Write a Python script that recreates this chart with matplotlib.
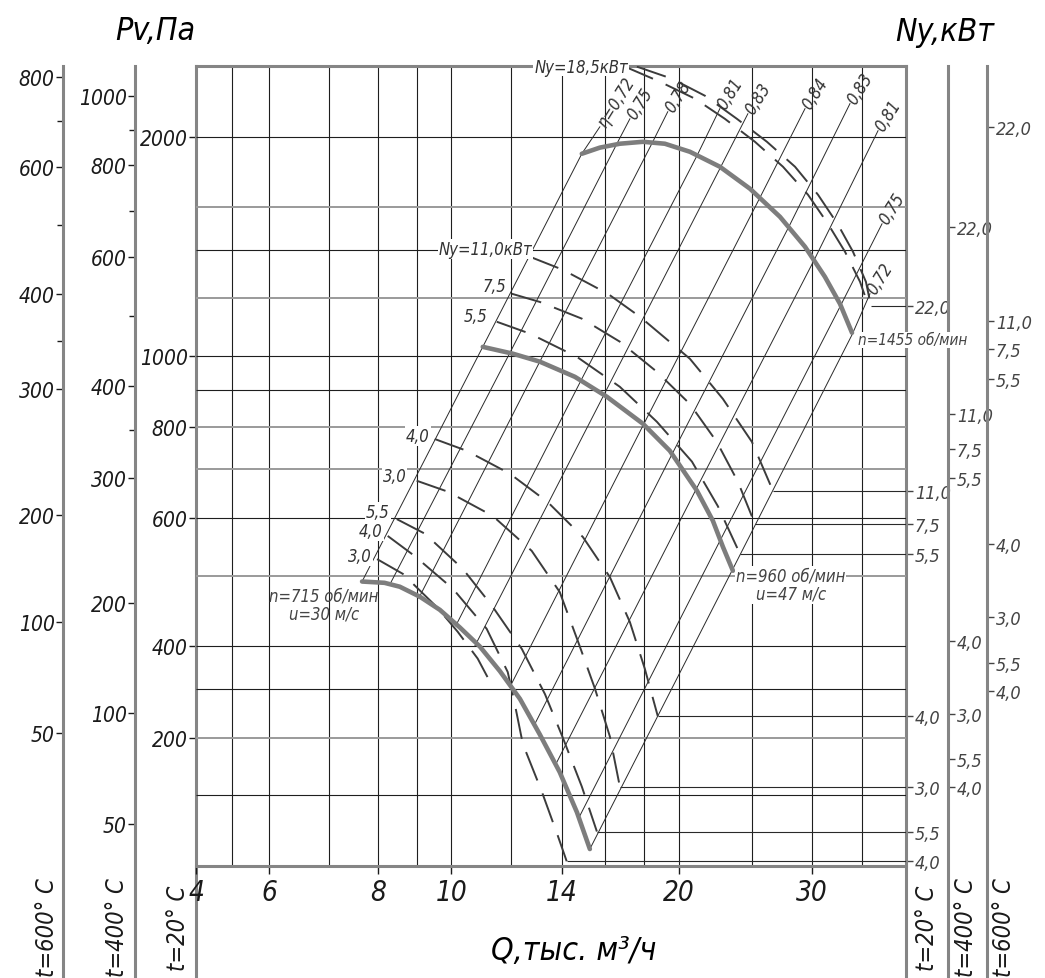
import numpy as np
import matplotlib
matplotlib.use("Agg")
import matplotlib.pyplot as plt
from matplotlib.ticker import FixedLocator, NullFormatter, NullLocator

# ---- values (Q in thousand m3/h, Pv in Pa at t=20 C) ----
q_ticks = [4, 6, 8, 10, 14, 20, 30]
q_grid = [5, 6, 7, 8, 9, 10, 12, 14, 16, 18, 20, 25, 30, 35]
p_grid_dark = [250, 350, 400, 600, 900, 1000, 1400, 2000]
p_grid_grey = [300, 500, 700, 800, 1200, 1600]

# fan curves
n1455_q = [14.89, 15.73, 16.72, 17.94, 19.18, 20.70, 22.68, 24.86, 27.24, 29.40, 31.24, 32.71, 33.93]
n1455_p = [1895, 1932, 1956, 1968, 1956, 1907, 1819, 1697, 1553, 1413, 1285, 1180, 1077]
n960_q = [11.01, 12.07, 13.10, 14.58, 16.07, 17.94, 19.47, 21.15, 22.20, 22.89, 23.60]
n960_p = [1030, 1008, 983, 937, 880, 808, 742, 654, 595, 548, 508]
n715_q = [7.66, 8.16, 8.55, 9.09, 9.66, 10.26, 10.91, 11.60, 12.33, 13.10, 13.92, 14.67, 15.26]
n715_p = [491, 489, 483, 468, 449, 425, 400, 370, 339, 303, 269, 237, 211]

# efficiency lines (top label point, then crossings with n=1455, 960, 715)
eta_lbl = ["η=0,72", "0,75", "0,78", "0,81", "0,83", "0,84", "0,83", "0,81", "0,75", "0,72"]
eta_q = [[15.73, 14.89, 11.01, 7.66], [17.24, 16.57, 11.96, 8.29],
         [19.35, 18.43, 13.10, 9.06], [22.68, 21.15, 14.89, 10.14],
         [24.70, 22.68, 15.98, 10.74], [29.40, 25.62, 17.94, 11.96],
         [33.72, 28.08, 19.59, 12.90], [36.73, 30.20, 21.08, 13.76],
         [37.18, 32.71, 22.68, 14.76], [35.84, 33.93, 23.60, 15.26]]
eta_p = [[2063, 1895, 1030, 491], [2116, 1956, 1011, 486],
         [2164, 1956, 983, 466], [2185, 1883, 931, 427],
         [2150, 1808, 891, 400], [2185, 1649, 803, 352],
         [2220, 1515, 733, 313], [2038, 1352, 656, 276],
         [1519, 1169, 558, 233], [1218, 1070, 511, 211]]

# shaft power curves (dashed)
pw185_q = [16.98, 18.89, 21.02, 23.03, 25.24, 27.49, 29.67, 31.53, 33.21, 34.77, 35.40]
pw185_p = [2495, 2379, 2255, 2116, 1968, 1819, 1665, 1519, 1391, 1265, 1199]
pw220_q = [17.61, 19.59, 21.67, 23.89, 26.18, 28.52, 30.59, 32.51, 34.03, 35.40, 35.95]
pw220_p = [2495, 2402, 2276, 2116, 1968, 1819, 1665, 1515, 1391, 1265, 1172]
pw110_q = [12.71, 14.05, 16.12, 17.77, 20.70, 22.89, 25.01, 26.66]
pw110_p = [1369, 1314, 1218, 1133, 992, 874, 763, 654]
pw75_q = [12.03, 13.10, 14.89, 16.72, 18.72, 20.70, 22.47, 23.96, 25.24]
pw75_p = [1218, 1187, 1126, 1047, 952, 860, 763, 673, 589]
pw55_q = [11.49, 12.71, 14.67, 16.72, 18.72, 20.83, 22.54, 24.11]
pw55_p = [1115, 1074, 998, 908, 813, 717, 623, 536]
pw40a_q = [9.51, 10.48, 11.96, 13.42, 14.94, 16.22, 17.24, 18.04, 18.77]
pw40a_p = [770, 742, 690, 631, 565, 498, 432, 373, 321]
pw30a_q = [9.00, 9.90, 11.35, 12.78, 13.92, 14.71, 15.50, 16.22, 16.72]
pw30a_p = [675, 652, 604, 541, 475, 407, 350, 301, 257]
pw55b_q = [8.47, 9.23, 10.36, 11.32, 12.40, 13.31, 14.05, 14.89, 15.59]
pw55b_p = [598, 571, 511, 455, 397, 344, 300, 257, 223]
pw40b_q = [8.24, 8.95, 10.05, 11.14, 11.88, 12.10, 12.44, 13.18, 13.84, 14.22]
pw40b_p = [567, 532, 480, 423, 369, 339, 294, 253, 220, 203]
pw30b_q = [7.98, 8.63, 9.57, 10.20, 10.84, 11.35]
pw30b_p = [527, 503, 453, 419, 385, 352]

# pressure scales for the three temperatures (positions in Pa at 20 C)
p20_pos = [2000, 1000, 800, 600, 400, 300]
p20_lbl = ["2000", "1000", "800", "600", "400", "200"]
p400_pos = [2276, 1831, 1369, 911, 681, 459, 324, 228]
p400_lbl = ["1000", "800", "600", "400", "300", "200", "100", "50"]
p400_minor = [2044, 1583, 1136, 793]
p600_pos = [2418, 1819, 1218, 902, 606, 432, 304]
p600_lbl = ["800", "600", "400", "300", "200", "100", "50"]
p600_minor = [2104, 1515, 1050]

# power scales
ny_lbl = ["22,0", "11,0", "7,5", "5,5", "4,0", "3,0", "5,5", "4,0"]
ny20_pos = [1172, 654, 589, 536, 321, 257, 223, 203]
ny400_pos = [1505, 832, 747, 680, 407, 323, 280, 257]
ny600_pos = [2063, 1118, 1024, 931, 552, 439, 380, 348]

# ---------------------------------------------------------------------------
W, H = 1045, 979
plt.rcParams["font.family"] = ["DejaVu Sans"]
plt.rcParams["font.style"] = "italic"
plt.rcParams["font.stretch"] = "condensed"
plt.rcParams["lines.scale_dashes"] = False

fig = plt.figure(figsize=(W / 100, H / 100), dpi=100)
fig.patch.set_facecolor("white")

# Q scale of the drawing: log above 8, squeezed below 8
q_knots = np.log10([4, 5, 6, 7, 8, 40])
q_px = np.array([0, 36, 73, 133, 182, 710])


def q_fwd(q):
    return np.interp(np.log10(np.clip(q, 1e-6, None)), q_knots, q_px)


def q_inv(v):
    return 10 ** np.interp(v, q_px, q_knots)


P_BOT, P_TOP = 200, 2500
ax = fig.add_axes([196 / W, 1 - 867 / H, 710 / W, 800 / H])
ax.set_xscale("function", functions=(q_fwd, q_inv))
ax.set_yscale("log")
ax.set_xlim(4, 40)
ax.set_ylim(P_BOT, P_TOP)
ax.set_zorder(5)
ax.patch.set_visible(False)

ax.vlines(q_grid, P_BOT, P_TOP, colors="#1e1e1e", lw=0.8, zorder=1)
ax.hlines(p_grid_dark, 4, 40, colors="#1e1e1e", lw=0.8, zorder=1)
ax.hlines(p_grid_grey, 4, 40, colors="#9a9a9a", lw=1.4, zorder=1)

for qs, ps in zip(eta_q, eta_p):
    ax.plot(qs, ps, color="#2a2a2a", lw=0.7, zorder=2)
for lbl, qs, ps in zip(eta_lbl, eta_q, eta_p):
    ax.annotate(lbl, (qs[0], ps[0]), xytext=(1, 1), textcoords="offset points",
                rotation=58, rotation_mode="anchor", ha="left", va="center",
                fontsize=12, color="#333333", zorder=6)

power = [(pw185_q, pw185_p, False), (pw220_q, pw220_p, True),
         (pw110_q, pw110_p, True), (pw75_q, pw75_p, True), (pw55_q, pw55_p, True),
         (pw40a_q, pw40a_p, True), (pw30a_q, pw30a_p, True),
         (pw55b_q, pw55b_p, True), (pw40b_q, pw40b_p, True),
         (pw30b_q, pw30b_p, False)]
for qs, ps, lead in power:
    ax.plot(qs, ps, color="#3c3c3c", lw=1.4, dashes=(22, 10), zorder=3)
    if lead:
        ax.hlines(ps[-1], qs[-1], 40, colors="#2a2a2a", lw=0.8, zorder=2)

for qs, ps in [(n1455_q, n1455_p), (n960_q, n960_p), (n715_q, n715_p)]:
    ax.plot(qs, ps, color="#7d7d7d", lw=3.3, solid_capstyle="round",
            solid_joinstyle="round", zorder=4)

box = dict(facecolor="white", edgecolor="none", pad=0.6)
small = [("Ny=18,5кВт", 14.86, 2495, "center"), ("Ny=11,0кВт", 11.11, 1404, "center"),
         ("7,5", 11.84, 1249, "right"), ("5,5", 11.18, 1136, "right"),
         ("4,0", 9.37, 778, "right"), ("3,0", 8.73, 686, "right"),
         ("5,5", 8.29, 612, "right"), ("4,0", 8.12, 576, "right"),
         ("3,0", 7.87, 532, "right")]
for s, q, p, ha in small:
    ax.text(q, p, s, ha=ha, va="center", fontsize=12, color="#333333",
            bbox=box, zorder=6, clip_on=False)

ax.text(6.91, 456, "n=715 об/мин\nu=30 м/с", ha="center", va="center",
        fontsize=12, color="#444444", linespacing=1.0, zorder=6)
ax.text(28.17, 486, "n=960 об/мин\nu=47 м/с", ha="center", va="center",
        fontsize=12, color="#444444", linespacing=1.0, bbox=box, zorder=6)
ax.text(34.55, 1053, "n=1455 об/мин", ha="left", va="center", fontsize=11,
        color="#444444", bbox=box, zorder=6, clip_on=False)

for side in ["left", "right"]:
    ax.spines[side].set_visible(False)
for side in ["top", "bottom"]:
    ax.spines[side].set_color("#858585")
    ax.spines[side].set_linewidth(2.2)
ax.set_yticks([])
ax.yaxis.set_minor_locator(NullLocator())
ax.set_xticks(q_ticks, labels=[str(q) for q in q_ticks])
ax.xaxis.set_minor_locator(NullLocator())
ax.tick_params(axis="x", direction="out", length=6, width=1, pad=3,
               labelsize=20, colors="#1a1a1a")

# extra vertical scales, running down to the bottom of the sheet
p_low = P_BOT / 10 ** (112 / 800 * np.log10(P_TOP / P_BOT))


def side_axis(x_px, side, pos, labels, minor=(), size=15, color="#1a1a1a"):
    a = fig.add_axes([x_px / W, 0, 0.0004, 1 - 67 / H])
    a.set_yscale("log")
    a.set_ylim(p_low, P_TOP)
    a.patch.set_visible(False)
    a.set_xticks([])
    for s in a.spines.values():
        s.set_visible(False)
    a.spines[side].set_visible(True)
    a.spines[side].set_color("#858585")
    a.spines[side].set_linewidth(2.2)
    if side == "right":
        a.yaxis.tick_right()
    else:
        a.yaxis.tick_left()
    a.yaxis.set_major_locator(FixedLocator(pos))
    a.set_yticklabels(labels)
    a.yaxis.set_minor_locator(FixedLocator(list(minor)))
    a.yaxis.set_minor_formatter(NullFormatter())
    a.tick_params(which="both", direction="out", length=5, width=1,
                  labelsize=size, colors=color, pad=1)
    a.tick_params(which="minor", length=4)
    return a


side_axis(63, "left", p600_pos, p600_lbl, p600_minor)
side_axis(135, "left", p400_pos, p400_lbl, p400_minor)
side_axis(196, "left", p20_pos, p20_lbl)
side_axis(906, "right", ny20_pos, ny_lbl, size=13, color="#444444")
side_axis(948, "right", ny400_pos, ny_lbl, size=13, color="#444444")
side_axis(987, "right", ny600_pos, ny_lbl, size=13, color="#444444")

for x_px, s in [(47, "t=600° C"), (117, "t=400° C"), (178, "t=20° C"),
                (927, "t=20° C"), (966, "t=400° C"), (1004, "t=600° C")]:
    fig.text(x_px / W, 1 - 928 / H, s, rotation=90, ha="center", va="center",
             fontsize=17, color="#1a1a1a")

fig.text(155 / W, 1 - 32 / H, "Pv,Па", ha="center", va="center", fontsize=23)
fig.text(945 / W, 1 - 32 / H, "Ny,кВт", ha="center", va="center", fontsize=23)
fig.text(574 / W, 1 - 952 / H, "Q,тыс. м³/ч", ha="center", va="center", fontsize=23)

fig.savefig("out.png", dpi=100)
